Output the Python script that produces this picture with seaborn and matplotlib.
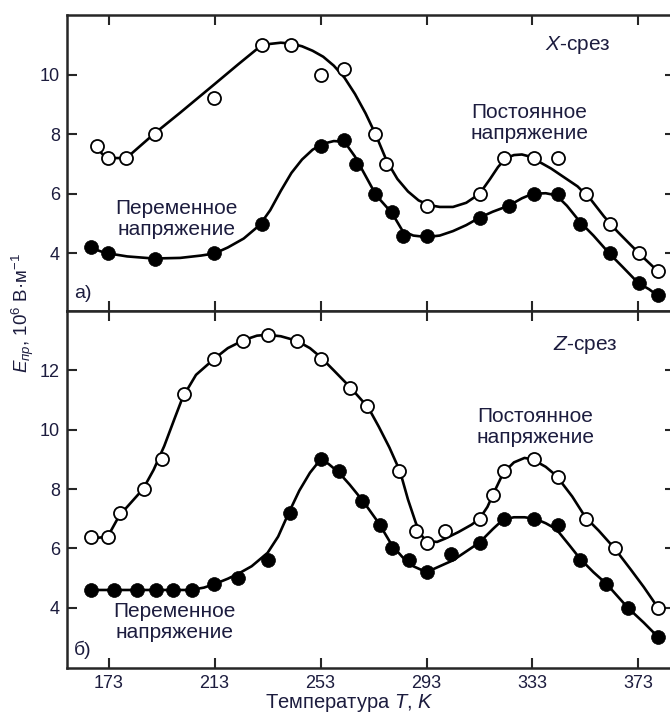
import matplotlib
matplotlib.use("Agg")
import matplotlib.pyplot as plt
import pandas as pd
import seaborn as sns

# measured points, X-cut (panel a)
X_DC_T = [168.7, 172.9, 179.4, 190.7, 212.8, 230.8, 241.9, 253.2, 262.0, 273.4,
          277.8, 293.3, 313.2, 322.4, 333.5, 342.5, 353.3, 362.1, 373.2, 380.4]
X_DC_E = [7.6, 7.2, 7.2, 8.0, 9.2, 11.0, 11.0, 10.0, 10.2, 8.0,
          7.0, 5.6, 6.0, 7.2, 7.2, 7.2, 6.0, 5.0, 4.0, 3.4]
X_AC_T = [166.2, 172.9, 190.7, 212.8, 230.8, 253.2, 262.0, 266.2, 273.4, 279.8,
          284.2, 293.3, 313.2, 324.3, 333.5, 342.5, 351.1, 362.1, 373.2, 380.4]
X_AC_E = [4.2, 4.0, 3.8, 4.0, 5.0, 7.6, 7.8, 7.0, 6.0, 5.4,
          4.6, 4.6, 5.2, 5.6, 6.0, 6.0, 5.0, 4.0, 3.0, 2.6]

# measured points, Z-cut (panel b)
Z_DC_T = [166.2, 172.9, 177.4, 186.4, 193.1, 201.4, 212.8, 223.9, 233.1, 244.1,
          253.2, 264.3, 270.6, 282.6, 288.9, 293.3, 300.0, 313.2, 318.0, 322.4,
          333.5, 342.5, 353.3, 364.3, 380.4]
Z_DC_E = [6.4, 6.4, 7.2, 8.0, 9.0, 11.2, 12.4, 13.0, 13.2, 13.0,
          12.4, 11.4, 10.8, 8.6, 6.6, 6.2, 6.6, 7.0, 7.8, 8.6,
          9.0, 8.4, 7.0, 6.0, 4.0]
Z_AC_T = [166.2, 175.0, 183.9, 190.8, 197.4, 204.3, 212.8, 222.0, 233.1, 241.6,
          253.2, 259.8, 268.7, 275.4, 279.8, 286.5, 293.3, 302.2, 313.2, 322.4,
          333.5, 342.5, 351.1, 360.6, 369.1, 380.4]
Z_AC_E = [4.6, 4.6, 4.6, 4.6, 4.6, 4.6, 4.8, 5.0, 5.6, 7.2,
          9.0, 8.6, 7.6, 6.8, 6.0, 5.6, 5.2, 5.8, 6.2, 7.0,
          7.0, 6.8, 5.6, 4.8, 4.0, 3.0]

# hand-drawn trend curves
X_DC_FIT_T = [168, 171, 174, 178, 181, 190, 200, 213, 222, 230, 234, 238, 242, 246,
              250, 254, 258, 262, 266, 270, 274, 278, 282, 286, 290, 294, 298, 303,
              308, 313, 317, 320, 323, 326, 329, 332, 335, 340, 345, 350, 355, 360,
              365, 370, 375, 380]
X_DC_FIT_E = [7.6, 7.3, 7.2, 7.2, 7.3, 8.0, 8.72, 9.68, 10.35, 10.93, 11.03, 11.07,
              11.04, 10.95, 10.8, 10.6, 10.3, 9.9, 9.35, 8.7, 7.95, 7.1, 6.5, 6.08,
              5.78, 5.62, 5.56, 5.56, 5.7, 6.0, 6.5, 6.9, 7.2, 7.3, 7.32, 7.25, 7.1,
              6.85, 6.55, 6.25, 5.81, 5.24, 4.74, 4.29, 3.85, 3.43]
X_AC_FIT_T = [166, 170, 173, 180, 190, 200, 208, 213, 218, 224, 230, 234, 238, 242,
              246, 250, 254, 258, 262, 266, 270, 274, 278, 280, 284, 288, 293, 298,
              303, 308, 313, 318, 324, 329, 333, 338, 342, 346, 351, 356, 362, 367,
              373, 377, 380]
X_AC_FIT_E = [4.2, 4.07, 4.0, 3.9, 3.83, 3.85, 3.93, 4.0, 4.2, 4.5, 4.95, 5.45, 6.1,
              6.7, 7.15, 7.48, 7.68, 7.77, 7.75, 7.25, 6.6, 5.95, 5.55, 5.35, 4.75,
              4.6, 4.55, 4.6, 4.75, 4.95, 5.2, 5.4, 5.6, 5.85, 6.0, 6.02, 5.95, 5.6,
              5.05, 4.6, 4.0, 3.55, 3.0, 2.8, 2.6]
Z_DC_FIT_T = [168, 171, 173, 177, 182, 186, 190, 194, 198, 201, 206, 213, 218, 224,
              229, 233, 238, 244, 249, 253, 258, 264, 268, 271, 275, 279, 283, 286,
              289, 291, 293, 297, 300, 305, 310, 313, 316, 318, 322, 326, 330, 333,
              338, 342, 348, 353, 358, 364, 370, 375, 380]
Z_DC_FIT_E = [6.35, 6.38, 6.45, 7.1, 7.6, 8.0, 8.65, 9.45, 10.4, 11.1, 11.85, 12.4,
              12.75, 13.02, 13.17, 13.2, 13.15, 13.0, 12.75, 12.45, 12.0, 11.45,
              11.05, 10.75, 10.1, 9.4, 8.6, 7.65, 6.85, 6.45, 6.25, 6.22, 6.33, 6.55,
              6.8, 7.0, 7.4, 7.8, 8.55, 8.9, 9.05, 9.0, 8.75, 8.45, 7.75, 7.05, 6.6,
              6.0, 5.3, 4.7, 4.05]
Z_AC_FIT_T = [166, 204, 209, 213, 218, 222, 227, 233, 237, 241, 245, 249, 253, 256,
              260, 264, 269, 275, 280, 284, 288, 293, 298, 303, 308, 313, 318, 322,
              326, 330, 334, 338, 342, 347, 351, 356, 361, 365, 369, 375, 380]
Z_AC_FIT_E = [4.6, 4.6, 4.68, 4.8, 4.98, 5.15, 5.4, 5.85, 6.4, 7.2, 7.95, 8.55, 9.0,
              8.85, 8.55, 8.15, 7.6, 6.85, 6.1, 5.7, 5.4, 5.2, 5.4, 5.6, 5.9, 6.2,
              6.65, 6.98, 7.05, 7.05, 7.0, 6.85, 6.65, 6.1, 5.65, 5.2, 4.8, 4.4, 4.0,
              3.5, 3.05]

X_TICKS = [173, 213, 253, 293, 333, 373]
YTICKS_A = [4, 6, 8, 10]
YTICKS_B = [4, 6, 8, 10, 12]

TEXT = "#1c1c3e"

sns.set_style("ticks")
plt.rcParams["font.family"] = ["Liberation Sans", "DejaVu Sans"]
plt.rcParams["mathtext.fontset"] = "custom"
plt.rcParams["mathtext.rm"] = "Liberation Sans"
plt.rcParams["mathtext.it"] = "Liberation Sans:italic"


def draw_panel(ax, dc_t, dc_e, ac_t, ac_e, dcf_t, dcf_e, acf_t, acf_e):
    fits = pd.concat([
        pd.DataFrame({"T": dcf_t, "E": dcf_e, "mode": "dc"}),
        pd.DataFrame({"T": acf_t, "E": acf_e, "mode": "ac"}),
    ])
    sns.lineplot(data=fits, x="T", y="E", units="mode", estimator=None,
                 color="black", lw=1.9, sort=False, ax=ax, zorder=2)
    sns.scatterplot(x=dc_t, y=dc_e, marker="o", s=88, facecolor="white",
                    edgecolor="black", linewidth=1.3, ax=ax, zorder=3)
    sns.scatterplot(x=ac_t, y=ac_e, marker="o", s=100, color="black",
                    edgecolor="black", linewidth=0.5, ax=ax, zorder=3)
    ax.set_xlim(157.3, 386.8)
    ax.set_xticks(X_TICKS)
    ax.tick_params(direction="in", top=True, right=True, length=7, width=1.5,
                   labelsize=13, labelcolor=TEXT, pad=5)
    for side in ["left", "bottom", "top", "right"]:
        ax.spines[side].set_linewidth(1.8)
    ax.set_xlabel("")
    ax.set_ylabel("")


fig = plt.figure(figsize=(6.7, 7.17), dpi=100)
ax_a = fig.add_axes([0.1, 0.5663, 0.9075, 0.4128])
ax_b = fig.add_axes([0.1, 0.0683, 0.9075, 0.4979])

draw_panel(ax_a, X_DC_T, X_DC_E, X_AC_T, X_AC_E,
           X_DC_FIT_T, X_DC_FIT_E, X_AC_FIT_T, X_AC_FIT_E)
draw_panel(ax_b, Z_DC_T, Z_DC_E, Z_AC_T, Z_AC_E,
           Z_DC_FIT_T, Z_DC_FIT_E, Z_AC_FIT_T, Z_AC_FIT_E)

ax_a.set_ylim(2.07, 12.0)
ax_a.set_yticks(YTICKS_A)
ax_a.tick_params(axis="x", labelbottom=False)
ax_b.set_ylim(1.97, 14.0)
ax_b.set_yticks(YTICKS_B)

# panel annotations
kw = dict(fontsize=15, color=TEXT, ha="center", va="center", linespacing=1.15)
ax_a.text(0.84, 0.9, r"$\mathit{X}$-срез", transform=ax_a.transAxes, **kw)
ax_a.text(0.76, 0.635, "Постоянное\nнапряжение", transform=ax_a.transAxes, **kw)
ax_a.text(0.18, 0.31, "Переменное\nнапряжение", transform=ax_a.transAxes, **kw)
ax_a.text(0.012, 0.06, "а)", transform=ax_a.transAxes, fontsize=14,
          color=TEXT, ha="left", va="center")

ax_b.text(0.853, 0.905, r"$\mathit{Z}$-срез", transform=ax_b.transAxes, **kw)
ax_b.text(0.77, 0.675, "Постоянное\nнапряжение", transform=ax_b.transAxes, **kw)
ax_b.text(0.177, 0.129, "Переменное\nнапряжение", transform=ax_b.transAxes, **kw)
ax_b.text(0.012, 0.05, "б)", transform=ax_b.transAxes, fontsize=14,
          color=TEXT, ha="left", va="center")

ax_b.set_xlabel(r"Температура $\mathit{T}$, $\mathit{K}$", fontsize=14.5,
                color=TEXT)
ax_b.xaxis.set_label_coords(0.464, -0.068)
fig.text(0.034, 1 - 313 / 717,
         r"$\mathit{E}_{\mathit{пр}}$, 10$^{6}$ В·м$^{-1}$",
         rotation=90, ha="center", va="center", fontsize=13.5, color=TEXT)

fig.savefig("out.png", dpi=100)
